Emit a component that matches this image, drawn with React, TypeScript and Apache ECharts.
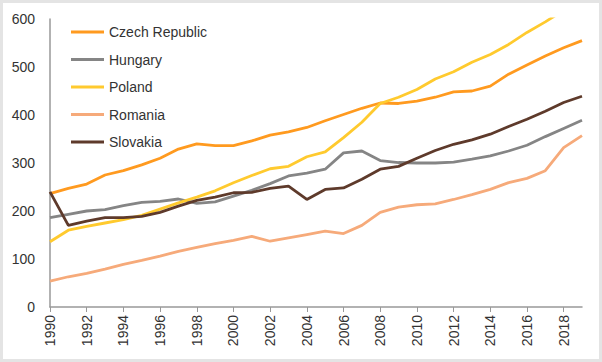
import React, { useEffect, useRef } from "react";
import * as echarts from "echarts";

const years: string[] = [];
for (let y = 1990; y <= 2019; y++) years.push(String(y));

const seriesNames = ["Czech Republic", "Hungary", "Poland", "Romania", "Slovakia"];

const czech = [236, 247, 256, 275, 284, 296, 310, 329, 340, 336, 336, 346, 358, 365, 374, 388, 401, 414, 425, 424, 429, 437, 448, 450, 460, 485, 504, 523, 540, 555];
const hungary = [186, 193, 200, 203, 211, 218, 220, 225, 216, 219, 231, 243, 257, 273, 279, 287, 321, 325, 305, 301, 300, 300, 302, 308, 315, 325, 337, 355, 372, 389];
const poland = [136, 160, 168, 175, 182, 191, 204, 217, 229, 242, 259, 274, 288, 293, 313, 323, 353, 385, 424, 437, 453, 475, 490, 510, 526, 547, 572, 594, 618, 640];
const romania = [54, 63, 70, 79, 89, 97, 106, 116, 124, 132, 139, 147, 137, 144, 151, 158, 153, 170, 197, 208, 213, 215, 224, 234, 245, 259, 268, 284, 332, 357];
const slovakia = [240, 170, 179, 186, 186, 189, 197, 210, 222, 229, 238, 239, 247, 252, 224, 245, 248, 266, 287, 293, 310, 326, 339, 348, 360, 376, 391, 408, 426, 439];

const seriesData = [czech, hungary, poland, romania, slovakia];
const colors = ["#FF9A1F", "#858585", "#FFCA2E", "#F6AA7A", "#5E3A2B"];

const FONT = "Liberation Sans, Arial, sans-serif";

export default function App() {
  const ref = useRef<HTMLDivElement>(null);
  useEffect(() => {
    if (!ref.current) return;
    const chart = echarts.init(ref.current, undefined, { renderer: "svg" });
    chart.setOption({
      animation: false,
      backgroundColor: "#ffffff",
      grid: { left: 50, right: 20, top: 19, bottom: 55, containLabel: false },
      legend: {
        orient: "vertical",
        left: 71,
        top: 25,
        padding: 0,
        icon: "rect",
        itemWidth: 33,
        itemHeight: 3,
        itemGap: 13.5,
        textStyle: { fontFamily: FONT, fontSize: 14, lineHeight: 14, color: "#333333" },
        data: seriesNames,
      },
      xAxis: {
        type: "category",
        data: years,
        boundaryGap: false,
        axisLine: { show: true, lineStyle: { color: "#999999", width: 1.5 } },
        axisTick: { show: true, interval: 1, length: 5, lineStyle: { color: "#999999" } },
        axisLabel: {
          interval: 1,
          rotate: 90,
          margin: 8,
          fontFamily: FONT,
          fontSize: 14,
          color: "#333333",
        },
        splitLine: { show: false },
      },
      yAxis: {
        type: "value",
        min: 0,
        max: 600,
        interval: 100,
        axisLine: { show: true, lineStyle: { color: "#999999", width: 1.5 } },
        axisTick: { show: false },
        axisLabel: { margin: 15, fontFamily: FONT, fontSize: 14, color: "#333333" },
        splitLine: { show: false },
      },
      series: seriesNames.map((name, i) => ({
        name,
        type: "line",
        data: seriesData[i],
        symbol: "none",
        clip: true,
        color: colors[i],
        lineStyle: { width: 2.8, color: colors[i] },
      })),
    });
    return () => chart.dispose();
  }, []);
  return (
    <div style={{ position: "fixed", left: 0, top: 0, width: 602, height: 362, background: "#fff" }}>
      <div ref={ref} style={{ position: "absolute", left: 0, top: 0, width: 602, height: 362 }} />
      <div
        style={{
          position: "absolute",
          left: 0,
          top: 0,
          width: 602,
          height: 362,
          boxSizing: "border-box",
          border: "3px solid #e4e4e4",
          pointerEvents: "none",
        }}
      />
    </div>
  );
}
